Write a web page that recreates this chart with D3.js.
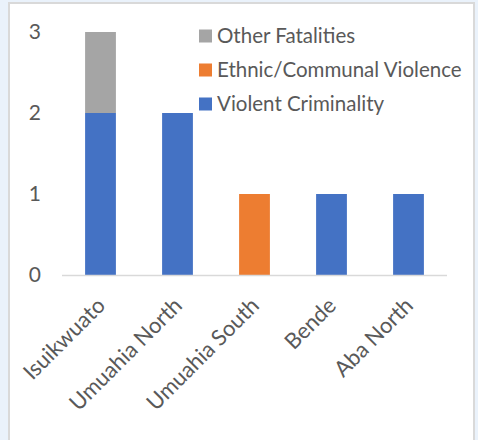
<!DOCTYPE html>
<html><head><meta charset="utf-8">
<script src="https://cdn.jsdelivr.net/npm/d3@7"></script>
<style>
html,body{margin:0;padding:0;background:#eaf2fb;}
svg{display:block;}
</style></head>
<body>
<svg id="c" width="478" height="440"></svg>
<script>
const categories = ["Isuikwuato","Umuahia North","Umuahia South","Bende","Aba North"];
const violentCriminality = [2,2,0,1,1];
const ethnicCommunal = [0,0,1,0,0];
const otherFatalities = [1,0,0,0,0];
const yTicks = [0,1,2,3];
const seriesNames = ["Violent Criminality","Ethnic/Communal Violence","Other Fatalities"];
const colors = ["#4472c4","#ed7d31","#a5a5a5"];

const svg = d3.select("#c");
const font = "Lato, sans-serif";

svg.append("rect").attr("x",8).attr("y",2).attr("width",467).attr("height",440)
  .attr("fill","#d9d9d9");
svg.append("rect").attr("x",10).attr("y",4).attr("width",463).attr("height",440)
  .attr("fill","#ffffff");

const x = d3.scaleBand().domain(categories).range([62,447]).paddingInner(0.6).paddingOuter(0.3);
const y = d3.scaleLinear().domain([0,3]).range([275,32]);

const rows = categories.map((c,i)=>({cat:c, v:[violentCriminality[i],ethnicCommunal[i],otherFatalities[i]]}));
const stack = d3.stack().keys([0,1,2]).value((d,k)=>d.v[k]);
const stacked = stack(rows);

svg.append("g").selectAll("g").data(stacked).join("g")
  .attr("fill",(d,i)=>colors[i])
  .selectAll("rect").data(d=>d).join("rect")
  .attr("x",d=>x(d.data.cat))
  .attr("width",x.bandwidth())
  .attr("y",d=>y(d[1]))
  .attr("height",d=>y(d[0])-y(d[1]));

// x axis line
svg.append("line").attr("x1",62).attr("x2",447).attr("y1",y(0)+0.5).attr("y2",y(0)+0.5)
  .attr("stroke","#d9d9d9").attr("stroke-width",1.5);

// y tick labels
svg.append("g").selectAll("text").data(yTicks).join("text")
  .attr("x",41).attr("y",d=>y(d)).attr("dy","0.35em")
  .attr("text-anchor","end").attr("fill","#595959")
  .style("font-family",font).style("font-size","21px")
  .text(d=>d);

// x labels
svg.append("g").selectAll("text").data(categories).join("text")
  .attr("transform",d=>`translate(${x(d)+x.bandwidth()/2+6},${y(0)+32}) rotate(-45)`)
  .attr("text-anchor","end").attr("fill","#595959")
  .style("font-family",font).style("font-size","22px")
  .text(d=>d);

// legend
const legendOrder = [2,1,0];
const lg = svg.append("g");
legendOrder.forEach((k,i)=>{
  const cy = 36 + i*34;
  lg.append("rect").attr("x",199).attr("y",cy-6.5).attr("width",13).attr("height",13).attr("fill",colors[k]);
  lg.append("text").attr("x",217).attr("y",cy).attr("dy","0.35em").attr("fill","#595959")
    .style("font-family",font).style("font-size","20.5px").text(seriesNames[k]);
});
</script>
</body></html>
